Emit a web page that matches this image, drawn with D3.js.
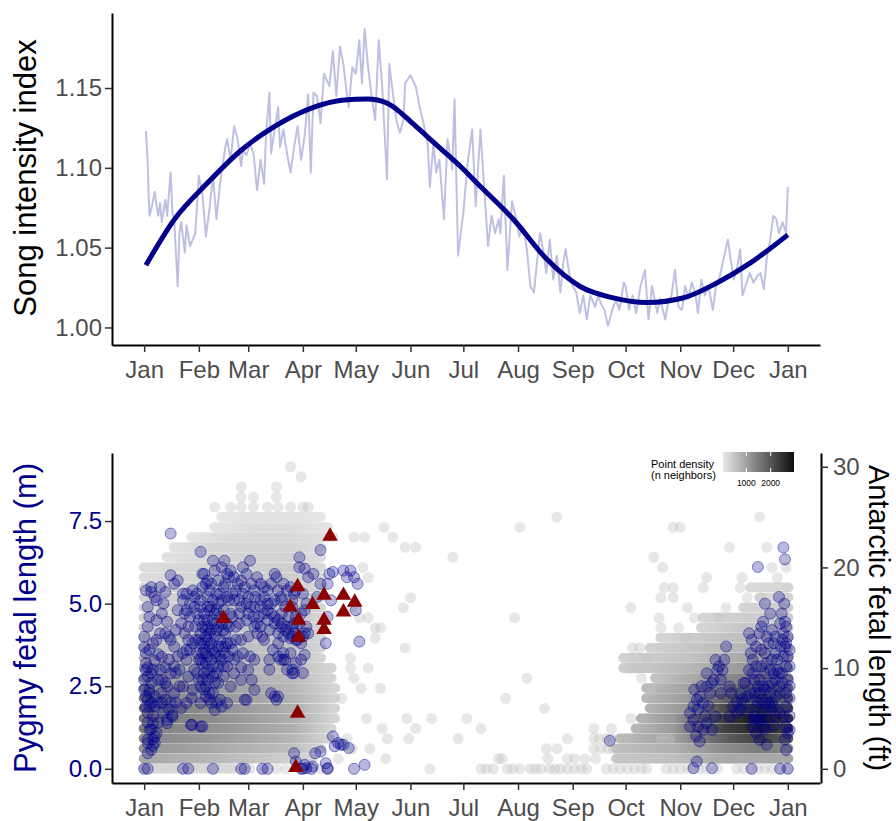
<!DOCTYPE html>
<html>
<head>
<meta charset="utf-8">
<script src="https://cdn.jsdelivr.net/npm/d3@7"></script>
<style>
body { margin: 0; background: #fff; }
text { font-family: "Liberation Sans", Arial, sans-serif; }
</style>
</head>
<body>
<script>

// ---- data ----
var monthDays = [0, 31, 59, 90, 120, 151, 181, 212, 243, 273, 304, 334, 365];
var monthLabels = ['Jan','Feb','Mar','Apr','May','Jun','Jul','Aug','Sep','Oct','Nov','Dec','Jan'];
var songTicks = [1.00, 1.05, 1.10, 1.15];
var pygmyTicks = [0, 2.5, 5, 7.5];
var antarcticTicks = [0, 10, 20, 30];
var densityTicks = [1000, 2000];
var densityRange = [40, 2960];

// daily song intensity (day of year, index)
var songDaily = [[1,1.123],[2,1.103],[2.5,1.084],[3,1.070],[4,1.074],[6,1.085],[7,1.076],[8,1.070],[9,1.078],[10,1.066],
 [12,1.080],[13,1.070],[15,1.097],[16,1.072],[17,1.068],[19,1.026],[20,1.059],[21,1.066],[23,1.047],[24,1.064],
 [26,1.051],[29,1.059],[31,1.095],[33,1.084],[35,1.057],[37,1.074],[39,1.095],[41,1.068],[43,1.090],[46,1.113],
 [47,1.118],[49,1.105],[51,1.126],[53,1.118],[55,1.101],[56,1.111],[58,1.108],[60,1.115],[62,1.109],[64,1.086],
 [66,1.105],[68,1.090],[69,1.118],[71,1.147],[72,1.109],[74,1.124],[76,1.138],[77,1.113],[79,1.124],[81,1.109],
 [83,1.097],[85,1.113],[87,1.126],[89,1.105],[91,1.120],[93,1.146],[94.5,1.097],[96,1.147],[98,1.145],[100,1.128],
 [102,1.159],[105,1.151],[107,1.173],[109,1.145],[111,1.176],[113,1.165],[115,1.145],[116,1.138],[118,1.163],[120,1.159],
 [122,1.180],[123.5,1.153],[125,1.187],[127,1.163],[129,1.145],[131,1.130],[133,1.180],[135,1.151],[137.7,1.093],[139,1.165],
 [141,1.147],[143,1.130],[145,1.122],[147,1.130],[148,1.153],[151,1.158],[154,1.151],[156.6,1.136],[158,1.130],[160.8,1.115],
 [162,1.088],[164,1.115],[165.6,1.097],[167.4,1.105],[170,1.068],[172,1.118],[174.7,1.099],[176,1.143],[178,1.045],[181,1.072],
 [183.6,1.105],[186,1.124],[188,1.076],[190.7,1.124],[192,1.101],[193.5,1.076],[195,1.051],[197,1.070],[199,1.059],[201,1.068],
 [202,1.059],[204,1.095],[206,1.036],[208.6,1.079],[211,1.068],[212.7,1.057],[215,1.063],[217,1.049],[219,1.026],[221,1.022],
 [224.5,1.059],[226.5,1.047],[228,1.034],[230,1.055],[232,1.030],[234,1.045],[236,1.022],[237.6,1.040],[239,1.049],[241,1.034],
 [243,1.026],[245,1.022],[247,1.009],[249,1.020],[251,1.005],[253,1.020],[255.7,1.013],[257.5,1.020],[259,1.015],[261,1.011],
 [263,1.001],[266,1.013],[267.6,1.017],[269.5,1.011],[272,1.028],[273,1.026],[275,1.011],[277,1.020],[279,1.009],[281.5,1.026],
 [284,1.036],[286,1.005],[288,1.026],[289,1.020],[291,1.009],[292.6,1.018],[295.5,1.005],[297,1.015],[299,1.020],[301,1.036],
 [303,1.013],[305,1.011],[306.8,1.026],[308.7,1.018],[310.5,1.028],[312.5,1.022],[314,1.009],[316,1.030],[318,1.020],[320,1.026],
 [322.5,1.011],[324.3,1.026],[326,1.030],[328.6,1.043],[331,1.055],[332.5,1.043],[334.4,1.030],[336.3,1.038],[338,1.049],[339.3,1.020],
 [341,1.026],[343.4,1.034],[345.6,1.028],[347.5,1.032],[349.5,1.034],[351.4,1.024],[353,1.043],[355,1.055],[356.8,1.070],[358.4,1.068],
 [360,1.059],[362,1.066],[364,1.059],[365,1.088]];

// smoothed seasonal trend
var songSmooth = [[1,1.039],[17,1.0675],[36,1.0906],[55,1.111],[74,1.126],[94.5,1.1373],[113.4,1.1425],[126.6,1.1431],
 [132.2,1.1425],[137.9,1.1404],[143.6,1.1363],[151.1,1.129],[160.5,1.1196],[170,1.1102],[179.4,1.1008],[188.8,1.0904],
 [209.6,1.0675],[228.5,1.0425],[247,1.0258],[266,1.0185],[285,1.0156],[306,1.0186],[325,1.028],[344,1.0406],[365,1.058]];

// Antarctic density rows: [length ft, [[day, n neighbors], ...]]
var antarcticRows = [
 [0,[[0,300],[50,250]]],
 [1,[[0,900],[40,700],[95,300]]],
 [2,[[0,1150],[40,900],[85,600],[100,300]]],
 [3,[[0,1350],[40,1100],[85,700],[105,300]]],
 [4,[[0,1450],[40,1200],[85,800],[106,300]]],
 [5,[[0,1500],[40,1250],[85,800],[108,300]]],
 [6,[[0,1500],[40,1250],[85,800],[108,300]]],
 [7,[[0,1400],[40,1150],[85,750],[108,300]]],
 [8,[[0,1250],[40,1050],[85,700],[108,300]]],
 [9,[[0,1050],[40,900],[85,650],[106,300]]],
 [10,[[0,900],[40,800],[85,600],[106,300]]],
 [11,[[0,700],[40,700],[85,550],[100,300]]],
 [12,[[0,550],[40,600],[85,550],[100,300]]],
 [13,[[0,450],[40,550],[85,500],[100,300]]],
 [14,[[0,400],[40,500],[85,500],[100,300]]],
 [15,[[0,350],[40,450],[85,500],[100,300]]],
 [16,[[0,300],[40,450],[85,500],[100,300]]],
 [17,[[0,300],[40,400],[85,450],[100,300]]],
 [18,[[0,250],[40,400],[85,450],[100,250]]],
 [19,[[0,200],[40,350],[85,400],[100,250]]],
 [20,[[0,200],[40,350],[85,400],[100,250]]],
 [21,[[13,150],[40,300],[85,350],[100,200]]],
 [22,[[17,150],[40,300],[85,300],[100,200]]],
 [23,[[27,100],[50,250],[85,250],[107,150]]],
 [24,[[40,100],[60,200],[85,200],[104,100]]],
 [25,[[44,100],[70,150],[100,100]]],
 [1,[[268,500],[300,600],[330,900],[365,900]]],
 [2,[[268,600],[300,800],[330,1300],[350,1500],[365,1300]]],
 [3,[[270,650],[300,1000],[330,1900],[350,2300],[365,1900]]],
 [4,[[279,700],[300,1100],[330,2300],[350,2700],[365,2200]]],
 [5,[[282,750],[300,1100],[330,2400],[350,2800],[365,2300]]],
 [6,[[287,750],[310,1200],[330,2200],[350,2600],[365,2100]]],
 [7,[[285,700],[310,1100],[330,1900],[350,2200],[365,1800]]],
 [8,[[285,650],[310,1000],[330,1600],[350,1800],[365,1500]]],
 [9,[[290,550],[310,850],[330,1300],[350,1500],[365,1200]]],
 [10,[[272,400],[310,700],[330,1000],[350,1200],[365,1000]]],
 [11,[[272,350],[310,550],[330,800],[350,1000],[365,850]]],
 [12,[[287,350],[330,650],[350,800],[365,700]]],
 [13,[[293,300],[330,550],[350,650],[365,600]]],
 [14,[[316,300],[340,500],[365,500]]],
 [15,[[317,300],[340,400],[365,450]]],
 [16,[[340,300],[365,400]]],
 [17,[[349,250],[365,350]]],
 [18,[[344,250],[365,300]]]
];

// sparse Antarctic records (day, ft)
var antarcticPoints = [[83,30],[89,29],[55,28],[75,28],[55,27],[62,27],[75,27],[40,26],[49,26],[55,26],[62,26],[70,26],
 [76,26],[83,26],[90,26],[93,26],[119,23],[125,23],[136,24],[141,23],[148,22],[154,22],[124,20],[127,19],[118,16],[122,15],
 [127,15],[131,14],[134,14],[131,13],[148,12],[151,17],[147,16],[117,11],[127,10],[117,10],[119,9],[123,8],[134,8],[112,7],
 [126,5],[135,4],[138,3],[149,5],[154,4],[150,3],[163,5],[137,1],[128,2],[118,2],[110,1],[115,3],[162,0],
 [55,0],[60,0],[68,0],[75,0],[80,0],[92,0],[100,0],
 [175,21],[213,24],[234,25],[210,15],[217,9],[205,7],[227,6],[183,5],[191,4],[178,3],[240,3],[201,1],[203,1],[228,2],
 [234,2],[229,1],[240,1],[244,1],[250,1],[256,1],[255,2],[259,2],[263,2],[266,2],[255,3],[258,3],[262,3],[265,3],[255,4],[265,4],
 [191,0],[194,0],[198,0],[206,0],[209,0],[213,0],[219,0],[222,0],[225,0],[230,0],[233,0],[236,0],[240,0],[244,0],[248,0],
 [251,0],[262,0],[266,0],[270,0],[274,0],[278,0],[282,0],[285,0],[296,0],[300,0],[304,0],[308,0],[311,0],[315,0],[319,0],
 [325,0],[336,0],[340,0],[344,0],[348,0],[352,0],[356,0],[361,0],[365,0],
 [276,16],[289,21],[294,20],[295,18],[300,18],[293,17],[300,17],[308,16],[319,19],[300,24],[304,24],[332,22],[353,22],
 [349,25],[292,15],[293,14],[303,14],[307,13],[317,18],[330,16],[338,18],[339,19],[356,20],[364,20],[359,19],[342,17],
 [350,17],[312,15],[326,15],[277,12],[281,12],[285,11],[276,10],[279,10],[282,9],[288,8],[276,5],[293,3],[298,3]];

// pygmy records (day, m)
var pygmyPoints = [
 [2,4.9],[4,5.5],[4,5.35],[0,4.0],[1,3.5],[2,3.07],[0,2.69],[3,2.39],[2,2.09],[1,1.88],[4,1.99],[2,1.69],[5,1.38],[3,1.18],
 [2,0.88],[6,0.78],[0,2.39],[3,2.29],[1,2.99],[4,2.89],[6,3.27],[0,3.68],[5,3.8],[2,4.3],[7,4.5],[8,3.47],[8,2.69],[7,1.08],
 [2,0.47],[5,0.7],
 [1,3.2],[3,3.6],[5,3.0],[2,2.8],[4,2.6],[6,2.2],[1,2.2],[3,1.9],[5,1.6],[2,1.4],[4,1.2],[6,1.9],[8,2.0],[9,3.0],[7,3.9],
 [3,4.6],[1,5.4],[6,5.2],[9,4.1],[10,2.3],[11,1.7],[8,1.4],[5,0.9],
 [15,7.12],[15,5.86],[17,5.6],[12,5.35],[13,4.45],[12,4.1],[15,3.9],[10,3.39],[12,3.07],[15,2.89],[10,2.69],[13,2.49],
 [17,2.29],[12,2.09],[16,1.63],[13,1.48],[19,5.7],
 [22,5.3],[22,5.1],[24,4.8],[21,4.4],[23,4.1],[25,3.9],[22,3.5],[24,3.3],[20,3.0],[25,2.79],[22,2.49],[27,2.14],[24,1.99],
 [21,1.84],[27,1.33],[32,1.28],
 [25,4.3],[26,4.6],[23,4.7],[26,3.6],[24,3.6],[29,3.9],[31,4.5],[30,5.3],[26,5.0],[24,5.3],[19,4.8],[18,4.2],[17,3.7],
 [19,3.4],[18,2.9],[20,2.5],[18,2.0],[15,2.0],[17,3.1],[10,4.7],[11,5.0],[9,5.5],[7,5.1],[14,4.0],[14,3.3],[12,2.6],
 [10,2.0],[14,1.8],
 [27.5,5.4],[28.5,5.2],[28.5,4.9],[30,4.7],[32,4.9],[29,4.3],[27.5,3.8],[30,3.5],[32,3.3],[28.5,3.0],[31,2.69],[27.5,2.39],[32,1.99],
 [32,6.57],[34,5.9],[36,5.7],[33,5.5],[32,5.1],[36,4.9],[34,4.5],[39,6.3],[40,6.0],[42,5.7],[44,6.1],[45.5,6.3],[47,5.9],
 [49,6.0],[51,5.8],[53,5.6],[41,5.3],[44,5.1],[38,4.9],[40,4.7],[36,4.3],[42,4.3],[40,4.0],[36,3.9],[32,3.8],[35,3.5],
 [38,3.3],[42,3.1],[34,2.89],[36,2.69],[32,2.49],[35,2.19],[38,1.99],[43,2.09],[44,1.88],[47,1.99],[40,1.78],[33,4.3],
 [32,4.1],[31,3.9],[37,4.1],[44,3.7],[45.5,3.5],[49,3.8],[51,3.3],[47,3.1],[51,2.89],[55,2.69],[53,3.4],[57,2.09],[49,2.49],
 [34,4.7],[36,4.5],[38,4.2],[35,4.0],[37,3.7],[39,3.6],[41,3.4],[33,3.2],[36,3.0],[39,2.8],[42,2.6],[34,2.4],[37,2.3],
 [40,2.6],[45,2.8],[43,4.6],[45,4.8],[47,4.4],[46,4.1],[48,5.1],[50,5.3],[38,5.6],[36,5.2],[42,5.0],[44,4.4],[40,4.4],
 [34,3.8],[31,3.3],[30,2.9],
 [33,5.9],[35,5.6],[37,5.4],[39,5.1],[41,4.8],[43,5.3],[45,5.5],[47,5.2],[49,4.7],[37,4.8],[39,4.5],[41,4.2],[43,3.9],
 [45,4.2],[47,3.8],[35,4.2],[33,3.5],[35,3.2],[37,2.9],[39,3.1],[41,2.9],[43,3.4],[45,3.1],[33,2.7],[35,2.5],[37,2.1],
 [39,2.3],[41,2.0],[34,3.6],[36,3.4],[38,3.8],[40,3.5],[42,3.7],[44,3.3],[46,3.7],[48,3.4],[50,3.6],[52,3.9],[48,4.3],
 [50,4.6],[52,4.3],[54,4.7],[46,5.6],[48,5.8],[52,5.4],[54,5.1],[56,5.3],[58,5.0],[60,4.9],[62,4.6],[64,4.4],[66,4.9],
 [68,5.2],[70,5.0],[72,4.7],[74,4.6],[76,4.5],[78,4.4],[80,4.2],[82,4.1],[84,4.0],[86,3.9],[88,4.0],[90,4.0],[86,4.6],
 [88,4.4],[84,5.1],[86,5.4],[76,5.4],[78,5.1],[72,5.6],[68,5.5],[64,5.8],[61,5.6],[58,5.9],[56,6.1],
 [60,6.3],[55,5.7],[57,5.5],[59,5.2],[62.5,5.4],[66,5.6],[70,5.4],[74,5.9],[75,5.8],[79,5.6],[81,5.4],[51,5.1],[55,4.9],
 [59,4.7],[62.5,4.9],[66,5.1],[70,4.8],[74,5.1],[77.5,5.2],[80,4.9],[83,5.5],[85,5.3],[54,4.4],[58,4.5],[62.5,4.3],[66,4.3],
 [70,4.5],[74,4.4],[77.5,4.3],[81,4.3],[85,4.4],[89,4.7],[90,5.3],[91,4.8],[55,3.9],[59,4.0],[64,4.1],[68,3.9],[71,4.2],
 [76,4.1],[79,4.0],[83,3.95],[86,4.1],[91,4.1],[56,3.5],[60,3.4],[62.5,3.3],[59,2.99],[55,3.07],[61,2.69],[62.5,2.39],
 [58,2.09],[71,3.3],[71,3.0],[72,2.29],[74,2.19],[79,3.5],[80,3.3],[81,3.0],[84,2.89],[83,3.5],[88,6.4],[88,6.1],[76,3.8],
 [65,4.6],[68,4.7],[72,5.0],[78,4.7],[63,5.2],[67,4.0],[73,3.6],[82,4.6],[87,3.9],[84,4.9],
 [91,6.06],[93,5.8],[96,5.9],[100,6.62],[100,5.6],[104,5.6],[105,5.9],[107,5.96],[113,6.0],[117,6.0],[115,5.8],[119,5.8],
 [121,5.6],[120,4.8],[122,3.85],[103,3.8],[104,4.6],[106,5.1],[98,5.2],[92,5.0],[92,4.3],[93,4.1],[89,3.8],[91,3.45],
 [89,3.3],[90,2.9],[84,3.0],[79,3.3],[84,4.3],[76,3.4],[77.5,3.3],[86,3.2],[85,2.9],
 [85,0.47],[86,0.22],[91,0.12],[92,0.02],[95.5,0.07],[97,0.47],[100,0.52],[103,0.17],[104,0.02],[108,0.68],[107,0.98],
 [110,0.78],[111.5,0.73],[113,0.73],[116,0.63],[125,0.12],[90,0.0],[119,0.0],
 [0,0],[2,0],[22,0],[25,0],[39,0],[55,0],[57,0],[67,0],[70,0],[89,0],[95,0],[104,0],
 [26.6,1.33],[33,1.28],[16,1.58],[13,1.38],[6,0.98],[2,0.78],[4,0.57],[76,2.19],[75,2.09],
 [264,0.85],
 [309.6,1.69],[311.5,1.89],[313.4,2.09],[315,2.19],[317,1.99],[319,2.89],[319,2.49],[321,2.29],[323,2.69],[324,3.3],
 [325,2.99],[327,2.29],[328,2.99],[309.6,1.28],[311.5,1.48],[314,1.28],[317,1.18],[319,1.38],[322,1.18],[324,1.58],
 [315,0.83],[311.5,0.02],[313.4,0.22],[322,0.02],
 [312,2.4],[314,1.8],[316,2.5],[318,1.6],[320,1.9],[322,2.6],[326,3.1],[313,1.0],[327,2.7],[329,3.3],
 [330,3.7],[332,2.49],[333,2.29],[334,1.89],[336,1.69],[332,1.58],[338,2.29],[340,1.99],[342,1.69],[343,4.1],[344.5,3.9],
 [345,3.3],[345,2.89],[346,2.69],[347,3.1],[348,2.49],[349,2.29],[350,2.09],[347,1.89],[346,1.48],[345,1.28],[347,1.08],
 [349,0.88],[351,1.28],[353,1.58],[355,1.89],[352,2.89],[352,3.5],[349,4.1],[351,4.45],[354,3.8],[356,3.3],[357,2.89],
 [358,2.69],[359,2.99],[360,2.49],[360.6,2.29],[361.5,2.89],[362.5,3.4],[363.4,3.7],[364,3.1],[365,2.69],[360.6,4.4],
 [361.5,4.7],[362.5,4.1],[363.4,4.45],[364,3.8],[365,3.4],[366,2.14],[364,1.89],[362.5,1.58],[364,1.28],[365,1.08],
 [363.4,0.88],[364,0.57],[366,1.18],[348,6.11],[362.5,6.7],[363.4,6.34],[353,0.73],[344.5,0.0],[360.6,0.0],[365,0.0],
 [358,3.5],[357,1.88],[355,2.29],[343,2.99],[344,2.29],[346,1.58],[348,1.48],
 [350,3.6],[353,3.2],[356,2.6],[358,2.2],[361,3.7],[362,2.6],[354,2.0],[351,1.7],[349,2.7],[356,4.2],[358,4.0],[341,2.6],
 [339,2.1],[336,2.0],[360,1.7],[357,1.3],[352,2.4],[366,2.5],[366,3.1],[365,4.0],
 [344,3.5],[347,3.7],[350,3.1],[352,2.0],[354,2.5],[356,2.0],[358,1.6],[360,2.9],[362,3.9],[364,2.3],[355,3.0],[353,4.0],
 [350,4.3],[348,2.0],[346,2.3],[342,2.2],[340,2.6],[338,1.8],[363,5.0],[360,5.2],[364,4.3],[359,3.3],[357,3.8],[351,2.5],
 [349,1.5],[352,1.2],[366,1.6],[366,3.6],[355,4.7],[352,5.0]
];

// red triangle records (day, m)
var trianglePoints = [[45,4.55],[87,5.51],[82.8,4.90],[87.5,4.50],[87.5,3.98],[87,1.68],[86,0.04],[95.5,4.97],
 [102,5.25],[102,4.50],[102,4.22],[105.4,7.04],[113,5.25],[113,4.75],[119.4,5.04]];

// ---- drawing ----
var W = 896, H = 821;
var svg = d3.select('body').append('svg')
    .attr('width', W)
    .attr('height', H);

var navy = '#00008B';
var tickGrey = '#4D4D4D';
var FT = 3.28084;

var x = d3.scaleLinear().domain([-18.25, 383.25]).range([112, 820]);

// ===== top panel =====
var yTop = d3.scaleLinear().domain([0.989, 1.197]).range([345, 13]);

var topPanel = svg.append('g');

topPanel.append('path')
    .datum(songDaily)
    .attr('fill', 'none')
    .attr('stroke', navy)
    .attr('stroke-opacity', 0.25)
    .attr('stroke-width', 2)
    .attr('stroke-linejoin', 'round')
    .attr('d', d3.line().x(function(d){ return x(d[0]); }).y(function(d){ return yTop(d[1]); }));

topPanel.append('path')
    .datum(songSmooth)
    .attr('fill', 'none')
    .attr('stroke', navy)
    .attr('stroke-width', 5)
    .attr('d', d3.line().curve(d3.curveMonotoneX).x(function(d){ return x(d[0]); }).y(function(d){ return yTop(d[1]); }));

function styleAxis(g, color) {
    g.select('.domain').attr('stroke', '#000').attr('stroke-width', 2);
    g.selectAll('.tick line').attr('stroke', '#333').attr('stroke-width', 1.5);
    g.selectAll('.tick text').attr('fill', color || tickGrey).attr('font-size', 24)
        .attr('font-family', '"Liberation Sans", Arial, sans-serif');
}

var xAxis = d3.axisBottom(x).tickValues(monthDays)
    .tickFormat(function(d, i){ return monthLabels[i]; })
    .tickSize(7).tickSizeOuter(0).tickPadding(9);

topPanel.append('g').attr('transform', 'translate(0,345)').call(xAxis).call(styleAxis);

topPanel.append('g').attr('transform', 'translate(112,0)')
    .call(d3.axisLeft(yTop).tickValues(songTicks).tickFormat(d3.format('.2f'))
        .tickSize(7).tickSizeOuter(0).tickPadding(3))
    .call(styleAxis);

svg.append('text')
    .attr('transform', 'translate(36,178) rotate(-90)')
    .attr('text-anchor', 'middle')
    .attr('font-size', 31)
    .attr('fill', '#000')
    .text('Song intensity index');

// ===== bottom panel =====
var yM = d3.scaleLinear().domain([-0.43, 9.56]).range([783, 453]);
var yFt = d3.scaleLinear().domain([-0.43 * FT, 9.56 * FT]).range([783, 453]);

var densColor = d3.scaleLinear().domain([0, 2960]).range(['#ececec', '#0d0d0d']);

var bot = svg.append('g');
var defs = svg.append('defs');

var R = 5.5;
antarcticRows.forEach(function(row, i){
    var ft = row[0], prof = row[1];
    var x0 = x(prof[0][0]) - R, x1 = x(prof[prof.length - 1][0]) + R;
    var grad = defs.append('linearGradient').attr('id', 'band' + i)
        .attr('x1', 0).attr('x2', 1).attr('y1', 0).attr('y2', 0);
    prof.forEach(function(p){
        grad.append('stop')
            .attr('offset', (x(p[0]) - x0) / (x1 - x0))
            .attr('stop-color', densColor(p[1]));
    });
    bot.append('rect')
        .attr('x', x0)
        .attr('y', yFt(ft) - 5)
        .attr('width', x1 - x0)
        .attr('height', 9.8)
        .attr('rx', 5)
        .attr('fill', 'url(#band' + i + ')');
});

bot.selectAll('circle.ant')
    .data(antarcticPoints)
    .enter().append('circle')
    .attr('class', 'ant')
    .attr('cx', function(d){ return x(d[0]); })
    .attr('cy', function(d){ return yFt(d[1]); })
    .attr('r', R)
    .attr('fill', '#c4c4c4')
    .attr('fill-opacity', 0.4);

bot.selectAll('circle.pyg')
    .data(pygmyPoints)
    .enter().append('circle')
    .attr('class', 'pyg')
    .attr('cx', function(d){ return x(d[0]); })
    .attr('cy', function(d){ return yM(d[1]); })
    .attr('r', R)
    .attr('fill', navy)
    .attr('fill-opacity', 0.28)
    .attr('stroke', navy)
    .attr('stroke-opacity', 0.45)
    .attr('stroke-width', 1);

bot.selectAll('path.tri')
    .data(trianglePoints)
    .enter().append('path')
    .attr('class', 'tri')
    .attr('transform', function(d){ return 'translate(' + x(d[0]) + ',' + yM(d[1]) + ')'; })
    .attr('d', d3.symbol().type(d3.symbolTriangle).size(105))
    .attr('fill', '#8B0000');

bot.append('g').attr('transform', 'translate(0,783)').call(xAxis).call(styleAxis);
bot.append('g').attr('transform', 'translate(112,0)')
    .call(d3.axisLeft(yM).tickValues(pygmyTicks).tickFormat(d3.format('.1f'))
        .tickSize(7).tickSizeOuter(0).tickPadding(3))
    .call(function(g){ styleAxis(g, navy); });
bot.append('g').attr('transform', 'translate(821,0)')
    .call(d3.axisRight(yFt).tickValues(antarcticTicks)
        .tickSize(7).tickSizeOuter(0).tickPadding(5))
    .call(styleAxis);

svg.append('text')
    .attr('transform', 'translate(36,618) rotate(-90)')
    .attr('text-anchor', 'middle')
    .attr('font-size', 31)
    .attr('fill', navy)
    .text('Pygmy fetal length (m)');

svg.append('text')
    .attr('transform', 'translate(869,618) rotate(90)')
    .attr('text-anchor', 'middle')
    .attr('font-size', 29)
    .attr('fill', '#000')
    .text('Antarctic fetal length (ft)');

// ===== density legend =====
var leg = svg.append('g');
leg.append('text').attr('x', 651).attr('y', 468).attr('font-size', 11).attr('fill', '#000').text('Point density');
leg.append('text').attr('x', 651).attr('y', 479).attr('font-size', 11).attr('fill', '#000').text('(n neighbors)');

var lx = d3.scaleLinear().domain(densityRange).range([723, 794]);
var lg = defs.append('linearGradient').attr('id', 'legGrad');
d3.range(0, 1.0001, 0.1).forEach(function(t){
    var v = densityRange[0] + t * (densityRange[1] - densityRange[0]);
    lg.append('stop').attr('offset', t).attr('stop-color', densColor(v));
});
leg.append('rect').attr('x', 723).attr('y', 452).attr('width', 71).attr('height', 20)
    .attr('fill', 'url(#legGrad)');
densityTicks.forEach(function(v){
    leg.append('line').attr('x1', lx(v)).attr('x2', lx(v)).attr('y1', 452).attr('y2', 456)
        .attr('stroke', '#fff').attr('stroke-width', 1);
    leg.append('line').attr('x1', lx(v)).attr('x2', lx(v)).attr('y1', 468).attr('y2', 472)
        .attr('stroke', '#fff').attr('stroke-width', 1);
    leg.append('text').attr('x', lx(v)).attr('y', 486).attr('text-anchor', 'middle')
        .attr('font-size', 8.5).attr('fill', '#000').text(v);
});

</script>
</body>
</html>
